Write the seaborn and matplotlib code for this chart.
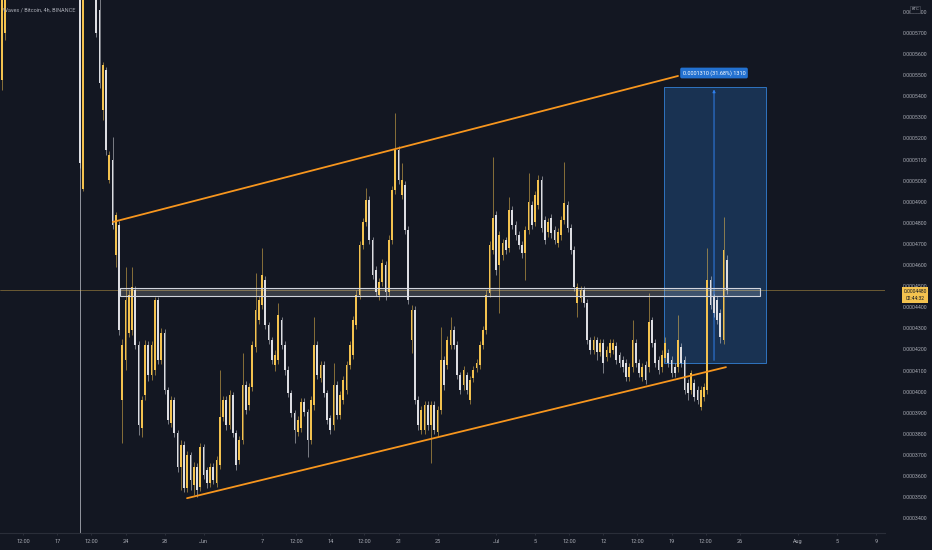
import numpy as np
import pandas as pd
import matplotlib
matplotlib.use("Agg")
import matplotlib.pyplot as plt
import matplotlib.dates as mdates
from matplotlib.colors import to_rgba
from matplotlib.patches import Rectangle
import seaborn as sns

# prices are kept in units of 0.0000001 BTC
UNIT = 1e-7

candle_start = "2021-05-11 00:00"
candle_step = "8h"

opens = [
    6080, 5477, 5700, 6120, 6200, 6300, 6250, 6400, 6350, 6500,
    6450, 6600, 6550, 6500, 6400, 6450, 6350, 6300, 6400, 6350,
    6250, 6300, 6200, 6150, 6100, 6050, 4960, 6000, 6100, 6050,
    5950, 5809, 5335, 5524, 5003, 5098, 4647, 4790, 3960, 4150,
    4278, 4292, 4481, 4221, 3827, 3984, 4221, 4079, 4102, 4434,
    4150, 4278, 4007, 3851, 3960, 3804, 3642, 3747, 3543, 3699,
    3557, 3642, 3548, 3737, 3628, 3567, 3642, 3567, 3652, 3879,
    3960, 3841, 3984, 3804, 3676, 3770, 4031, 3936, 4022, 4211,
    4339, 4410, 4529, 4315, 4244, 4126, 4150, 4339, 4221, 4102,
    3993, 3898, 3808, 3827, 3951, 3903, 3770, 3936, 4221, 4064,
    4126, 3993, 3875, 3841, 4031, 3889, 3960, 4007, 4126, 4173,
    4315, 4458, 4695, 4804, 4908, 4718, 4576, 4458, 4519, 4600,
    4472, 4718, 4955, 5145, 4932, 4979, 4766, 4244, 4387, 3960,
    3818, 3818, 3936, 3841, 3936, 3808, 3913, 4150, 4126, 4221,
    4292, 4221, 4079, 4031, 4079, 3960, 4064, 4111, 4126, 4221,
    4292, 4467, 4671, 4837, 4600, 4647, 4718, 4680, 4861, 4790,
    4742, 4695, 4657, 4766, 4884, 4804, 4884, 5003, 4813, 4756,
    4823, 4766, 4704, 4742, 4813, 4884, 4775, 4671, 4420, 4444,
    4481, 4420, 4244, 4197, 4244, 4188, 4230, 4164, 4183, 4197,
    4216, 4173, 4150, 4135, 4069, 4116, 4230, 4135, 4069, 4126,
    4116, 4339, 4230, 4150, 4116, 4159, 4183, 4150, 4116, 4116,
    4211, 4150, 4041, 4007, 4041, 4007, 3927, 3974, 4007, 4529,
    4448, 4434, 4372, 4244, 4624,
]
highs = [
    6200, 6250, 6180, 6260, 6360, 6350, 6460, 6460, 6560, 6560,
    6660, 6660, 6610, 6560, 6510, 6510, 6410, 6460, 6460, 6410,
    6360, 6360, 6260, 6210, 6160, 6100, 6050, 6150, 6150, 6100,
    6000, 5860, 5560, 5540, 5140, 5207, 4850, 4810, 4250, 4590,
    4480, 4590, 4500, 4240, 3980, 4244, 4240, 4240, 4448, 4450,
    4300, 4295, 4020, 3980, 3975, 3820, 3770, 3765, 3720, 3715,
    3665, 3660, 3756, 3750, 3645, 3660, 3660, 3695, 4102, 3980,
    3980, 4010, 4000, 3820, 3790, 4183, 4050, 4040, 4240, 4562,
    4455, 4680, 4550, 4330, 4260, 4195, 4420, 4355, 4240, 4120,
    4010, 3915, 3885, 3970, 3970, 3920, 3980, 4353, 4240, 4145,
    4145, 4010, 3890, 4135, 4050, 4005, 4075, 4145, 4240, 4360,
    4480, 4715, 4825, 4965, 4925, 4735, 4595, 4540, 4630, 4620,
    4740, 4975, 5320, 5165, 5083, 5000, 4785, 4410, 4405, 3980,
    3930, 3955, 3955, 3955, 3955, 3930, 4306, 4170, 4265, 4353,
    4310, 4240, 4095, 4120, 4095, 4075, 4120, 4155, 4240, 4310,
    4480, 4715, 5112, 4855, 4760, 4725, 4735, 4922, 4880, 4810,
    4760, 4715, 4785, 5036, 4905, 4950, 5027, 5020, 4830, 4825,
    4840, 4785, 4775, 4830, 5088, 4905, 4795, 4690, 4515, 4500,
    4500, 4440, 4260, 4265, 4260, 4250, 4250, 4215, 4250, 4250,
    4235, 4190, 4170, 4155, 4135, 4339, 4250, 4155, 4135, 4145,
    4467, 4355, 4250, 4170, 4195, 4259, 4200, 4170, 4135, 4363,
    4230, 4170, 4060, 4102, 4060, 4025, 4025, 4040, 4680, 4550,
    4465, 4455, 4390, 4827, 4647,
]
lows = [
    6040, 5429, 5666, 6060, 6140, 6190, 6190, 6290, 6290, 6390,
    6390, 6490, 6440, 6340, 6340, 6290, 6240, 6240, 6290, 6190,
    6190, 6140, 6090, 6040, 6000, 5060, 4950, 5950, 5980, 5900,
    5680, 5440, 5287, 5120, 4990, 4770, 4590, 4270, 3756, 4102,
    4260, 4270, 4200, 3794, 3785, 3960, 4050, 4055, 4079, 4130,
    4130, 3990, 3845, 3830, 3785, 3620, 3533, 3525, 3525, 3533,
    3510, 3500, 3530, 3585, 3545, 3548, 3560, 3548, 3635, 3860,
    3820, 3825, 3785, 3628, 3655, 3750, 3895, 3915, 4005, 4190,
    4320, 4390, 4295, 4225, 4130, 4100, 4130, 4200, 4080, 3975,
    3880, 3756, 3790, 3810, 3885, 3690, 3750, 3915, 4060, 4045,
    3975, 3845, 3800, 3820, 3870, 3870, 3940, 3990, 4105, 4155,
    4295, 4440, 4675, 4785, 4700, 4535, 4455, 4434, 4500, 4434,
    4455, 4700, 4935, 4985, 4915, 4745, 4415, 4183, 3940, 3820,
    3800, 3800, 3820, 3661, 3800, 3790, 3895, 4010, 4105, 4200,
    4200, 4060, 3990, 4010, 3990, 3940, 4045, 4095, 4105, 4200,
    4275, 4450, 4650, 4555, 4372, 4625, 4650, 4660, 4770, 4720,
    4675, 4635, 4529, 4745, 4770, 4785, 4865, 4755, 4700, 4735,
    4730, 4700, 4685, 4720, 4795, 4755, 4650, 4475, 4353, 4425,
    4400, 4225, 4180, 4180, 4150, 4170, 4088, 4145, 4165, 4180,
    4130, 4115, 4095, 4050, 4050, 4095, 4115, 4070, 4050, 4035,
    4095, 4210, 4115, 4085, 4095, 4140, 4115, 4070, 4070, 4095,
    4115, 3990, 3960, 3990, 3955, 3940, 3913, 3955, 3990, 4390,
    4355, 4320, 4230, 4225, 4465,
]
closes = [
    6150, 6150, 6120, 6200, 6300, 6250, 6400, 6350, 6500, 6450,
    6600, 6550, 6500, 6400, 6450, 6350, 6300, 6400, 6350, 6250,
    6300, 6200, 6150, 6100, 6050, 5083, 6000, 6100, 6050, 5950,
    5700, 5463, 5548, 5145, 5121, 4790, 4837, 4292, 4221, 4434,
    4458, 4496, 4221, 3841, 3960, 4221, 4079, 4221, 4434, 4150,
    4278, 4007, 3865, 3960, 3804, 3642, 3747, 3543, 3699, 3581,
    3642, 3533, 3737, 3604, 3567, 3642, 3581, 3676, 3879, 3960,
    3841, 3984, 3804, 3652, 3770, 4031, 3913, 4022, 4221, 4387,
    4434, 4553, 4315, 4244, 4150, 4173, 4363, 4221, 4102, 3993,
    3898, 3818, 3865, 3951, 3903, 3770, 3960, 4221, 4079, 4126,
    3993, 3865, 3818, 4031, 3889, 3984, 4055, 4126, 4221, 4339,
    4458, 4695, 4804, 4908, 4718, 4553, 4472, 4519, 4609, 4472,
    4718, 4955, 5145, 5003, 5003, 4766, 4434, 4387, 3960, 3841,
    3913, 3936, 3841, 3936, 3818, 3913, 4150, 4031, 4244, 4292,
    4221, 4079, 4007, 4102, 4007, 4055, 4102, 4135, 4221, 4292,
    4458, 4695, 4823, 4576, 4742, 4704, 4671, 4861, 4790, 4742,
    4695, 4657, 4766, 4899, 4790, 4932, 5003, 4775, 4718, 4804,
    4752, 4718, 4756, 4813, 4894, 4775, 4671, 4496, 4496, 4481,
    4420, 4244, 4197, 4244, 4188, 4230, 4135, 4197, 4230, 4230,
    4150, 4135, 4116, 4069, 4116, 4244, 4135, 4088, 4116, 4055,
    4330, 4230, 4135, 4102, 4173, 4230, 4135, 4088, 4088, 4244,
    4135, 4007, 3993, 4088, 3974, 3960, 4007, 4022, 4529, 4410,
    4372, 4339, 4259, 4671, 4480,
]

last_price = 4480
countdown = "02:44:32"

upper_trend_dates = ["2021-05-22 17:00", "2021-07-19 16:00"]
upper_trend_prices = [4804, 5496]
lower_trend_dates = ["2021-05-30 07:30", "2021-07-24 14:00"]
lower_trend_prices = [3495, 4116]

zone_dates = ["2021-05-23 11:00", "2021-07-28 02:00"]
zone_prices = [4453, 4491]

measure_dates = ["2021-07-18 05:30", "2021-07-28 16:30"]
measure_arrow_date = "2021-07-23 08:40"
measure_prices = [4135, 5445]
measure_label = "0.0001310 (31.68%) 1310"

crosshair_date = "2021-05-19 08:00"

price_ticks = list(range(3400, 5801, 100))
date_ticks = ["2021-05-13 12:00", "2021-05-17 00:00", "2021-05-20 12:00", "2021-05-24 00:00",
              "2021-05-28 00:00", "2021-06-01 00:00", "2021-06-07 00:00", "2021-06-10 12:00",
              "2021-06-14 00:00", "2021-06-17 12:00", "2021-06-21 00:00", "2021-06-25 00:00",
              "2021-07-01 00:00", "2021-07-05 00:00", "2021-07-08 12:00", "2021-07-12 00:00",
              "2021-07-15 12:00", "2021-07-19 00:00", "2021-07-22 12:00", "2021-07-26 00:00",
              "2021-08-01 00:00", "2021-08-05 00:00", "2021-08-09 00:00"]
date_tick_labels = ["12:00", "17", "12:00", "24", "28", "Jun", "7", "12:00", "14",
                    "12:00", "21", "25", "Jul", "5", "12:00", "12", "12:00", "19",
                    "12:00", "26", "Aug", "5", "9"]
view_dates = ["2021-05-11 03:04", "2021-08-09 21:32"]
view_prices = [3330, 5856]

BG = "#131722"
UP = "#f3c24f"
DOWN = "#dcdde2"
TEXT = "#a9acb5"
ORANGE = "#f7961e"

sns.set_style("dark", {"axes.facecolor": BG, "figure.facecolor": BG})
plt.rcParams["font.family"] = ["Roboto", "DejaVu Sans"]


def dnum(values):
    return mdates.date2num(pd.to_datetime(values, format="mixed"))


fig = plt.figure(figsize=(9.32, 5.5), dpi=100)
fig.patch.set_facecolor(BG)
ax = fig.add_axes([0, 17 / 550, 885 / 932, 533 / 550])
ax.set_facecolor(BG)

o = np.array(opens) * UNIT
h = np.array(highs) * UNIT
l = np.array(lows) * UNIT
c = np.array(closes) * UNIT
t = mdates.date2num(pd.date_range(candle_start, periods=len(opens), freq=candle_step))
up = c >= o
body_cols = np.where(up, UP, DOWN)
wick_cols = [to_rgba(col, 0.6) for col in body_cols]

# measuring box sits behind the candles
m0, m1 = dnum(measure_dates)
ax.add_patch(Rectangle((m0, measure_prices[0] * UNIT), m1 - m0,
                       (measure_prices[1] - measure_prices[0]) * UNIT,
                       facecolor="#1e4a7a", alpha=0.55, edgecolor="none", zorder=1))
ax.add_patch(Rectangle((m0, measure_prices[0] * UNIT), m1 - m0,
                       (measure_prices[1] - measure_prices[0]) * UNIT,
                       facecolor="none", edgecolor="#2f74c0", lw=0.7, zorder=1.1))
ma = dnum([measure_arrow_date])[0]
ax.annotate("", xy=(ma, measure_prices[1] * UNIT), xytext=(ma, measure_prices[0] * UNIT),
            arrowprops=dict(arrowstyle="-|>", color="#2f80ed", lw=0.7, mutation_scale=4),
            zorder=1.2)
ax.text(ma, (measure_prices[1] + 65) * UNIT, measure_label, color="white", fontsize=4,
        ha="center", va="center", zorder=6,
        bbox=dict(boxstyle="round,pad=0.45,rounding_size=0.3", fc="#2371d0", ec="none"))

# crosshair and last price line
ax.axvline(dnum([crosshair_date])[0], color="#b4b7bf", lw=0.7, alpha=0.8, zorder=1.5)
ax.axhline(last_price * UNIT, color=UP, lw=0.5, alpha=0.55, zorder=1.5)

# candles
ax.vlines(t, l, h, colors=wick_cols, lw=0.6, zorder=2)
body_h = np.maximum(np.abs(c - o), 5 * UNIT)
ax.bar(t, body_h, bottom=np.minimum(o, c), width=0.2, color=body_cols, lw=0, zorder=3)

# support / resistance zone
z0, z1 = dnum(zone_dates)
ax.add_patch(Rectangle((z0, zone_prices[0] * UNIT), z1 - z0,
                       (zone_prices[1] - zone_prices[0]) * UNIT,
                       facecolor=(1, 1, 1, 0.16), edgecolor="#d1d4dc", lw=0.8, zorder=4))

# channel lines
sns.lineplot(x=dnum(upper_trend_dates), y=np.array(upper_trend_prices) * UNIT, ax=ax,
             color=ORANGE, lw=1.3, zorder=5)
sns.lineplot(x=dnum(lower_trend_dates), y=np.array(lower_trend_prices) * UNIT, ax=ax,
             color=ORANGE, lw=1.3, zorder=5)

ax.set_xlim(dnum(view_dates))
ax.set_ylim(np.array(view_prices) * UNIT)

ax.set_xticks(dnum(date_ticks))
ax.set_xticklabels(date_tick_labels)
ax.set_yticks(np.array(price_ticks) * UNIT)
ax.set_yticklabels([f"{p * UNIT:.7f}" for p in price_ticks])
ax.yaxis.tick_right()
ax.tick_params(axis="y", length=0, pad=13, labelsize=3.8, labelcolor=TEXT)
ax.tick_params(axis="x", length=1.5, width=0.5, color="#363a45", pad=2.5,
               labelsize=4, labelcolor=TEXT, bottom=True)
ax.set_xlabel("")
ax.set_ylabel("")
ax.grid(False)
for side in ["top", "left", "right"]:
    ax.spines[side].set_visible(False)
ax.spines["bottom"].set_color("#2a2e39")
ax.spines["bottom"].set_linewidth(0.8)
if ax.get_legend():
    ax.get_legend().remove()

fig.text(3 / 932, 1 - 10 / 550, "Waves / Bitcoin, 4h, BINANCE", color=TEXT,
         fontsize=4, ha="left", va="center")
fig.text(915 / 932, 1 - 9.5 / 550, "BTC", color=TEXT, fontsize=3, ha="center", va="center",
         bbox=dict(boxstyle="square,pad=0.35", fc=BG, ec="#50535e", lw=0.4))
fig.text(915 / 932, 1 - 295 / 550, f"{last_price * UNIT:.7f}\n{countdown}", color=BG,
         fontsize=3.6, ha="center", va="center", linespacing=1.4,
         bbox=dict(boxstyle="square,pad=0.35", fc=UP, ec="none"))

fig.savefig("out.png", dpi=100, facecolor=BG)
